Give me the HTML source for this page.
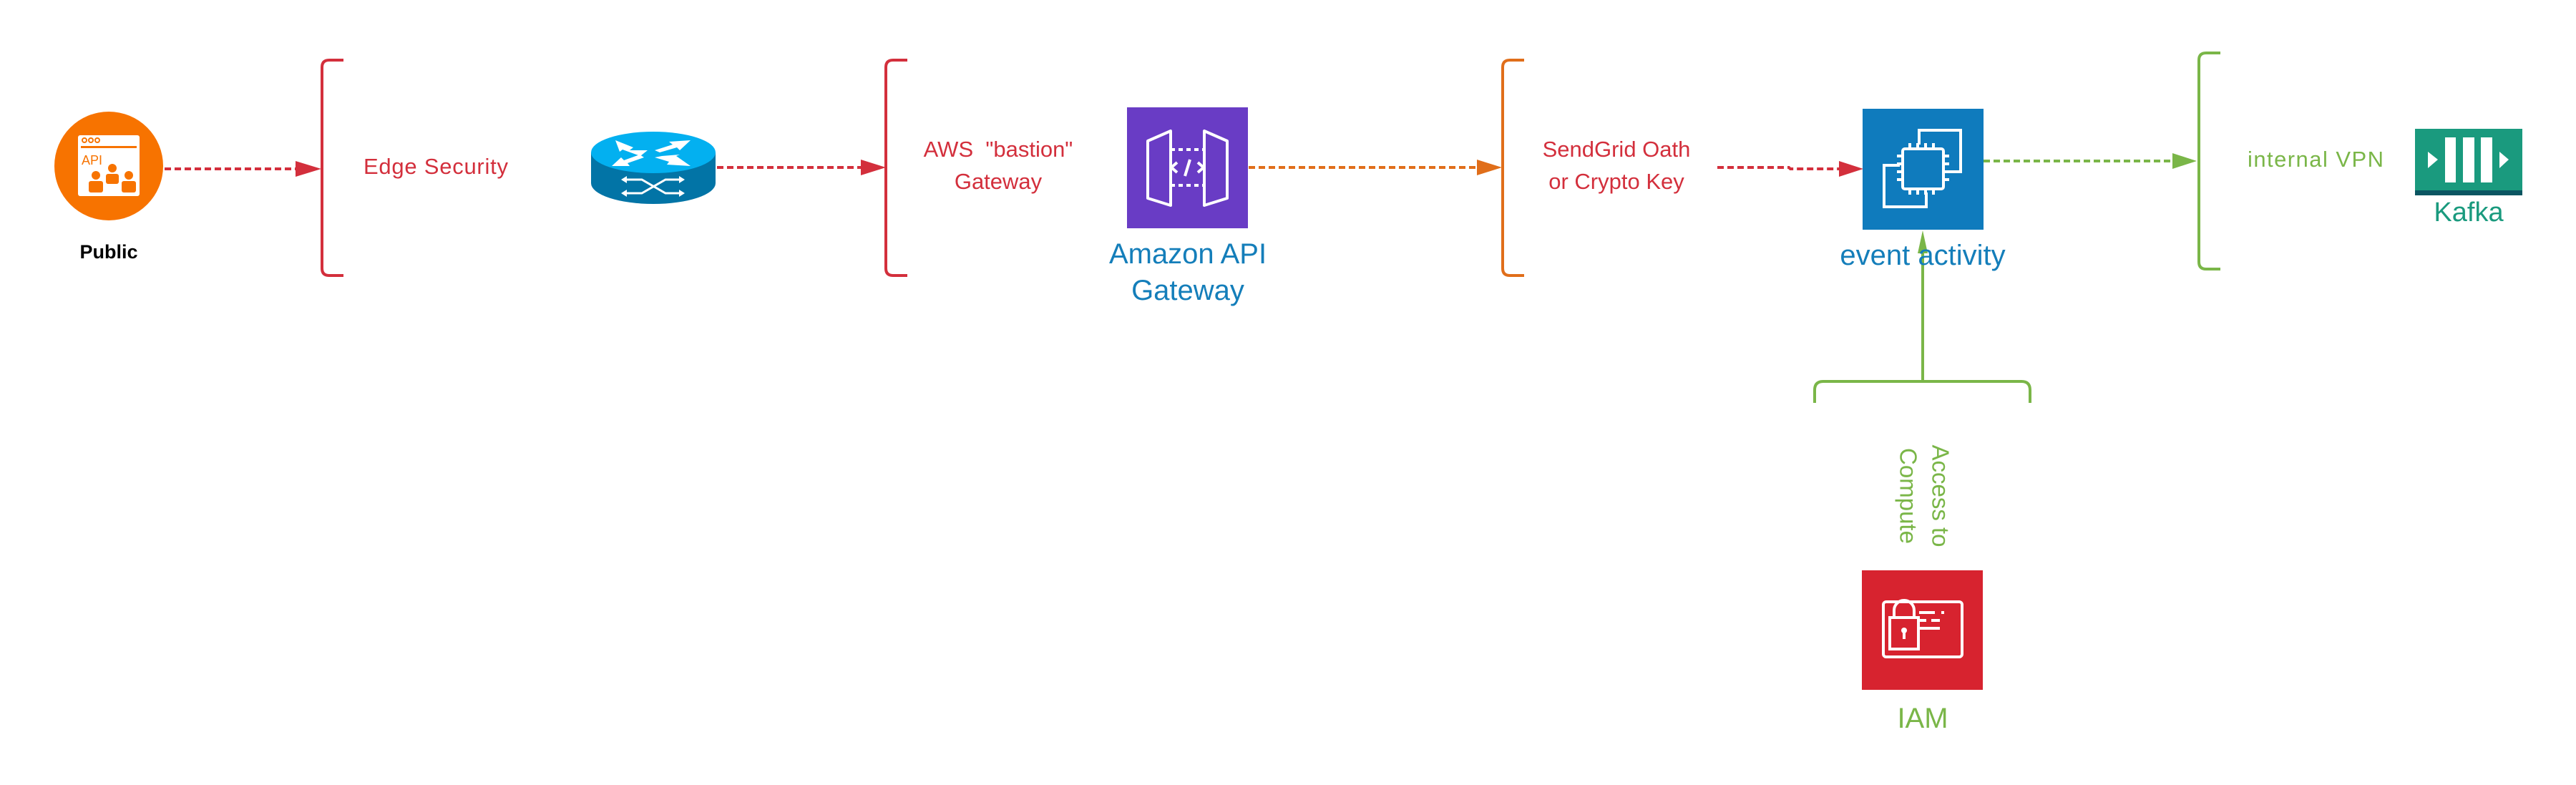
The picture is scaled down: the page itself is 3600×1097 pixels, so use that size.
<!DOCTYPE html>
<html><head><meta charset="utf-8"><style>html,body{margin:0;padding:0;background:#fff}svg{display:block}</style></head>
<body>
<svg width="3600" height="1097" viewBox="0 0 3600 1097" xmlns="http://www.w3.org/2000/svg" font-family="Liberation Sans, sans-serif">
<rect width="3600" height="1097" fill="#fff"/>
<!-- Public -->
<circle cx="152" cy="232" r="76" fill="#F77300"/>
<rect x="109" y="189" width="86" height="85" rx="3" fill="#fff"/>
<rect x="113" y="204" width="78" height="3" fill="#F77300"/>
<circle cx="118" cy="196" r="3" fill="none" stroke="#F77300" stroke-width="2"/>
<circle cx="127" cy="196" r="3" fill="none" stroke="#F77300" stroke-width="2"/>
<circle cx="136" cy="196" r="3" fill="none" stroke="#F77300" stroke-width="2"/>
<text x="114" y="230" font-size="18" fill="#F77300">API</text>
<circle cx="157" cy="235" r="6" fill="#F77300"/><rect x="148" y="243" width="18" height="14" rx="3" fill="#F77300"/>
<circle cx="134" cy="245" r="6" fill="#F77300"/><rect x="124" y="253" width="20" height="16" rx="3" fill="#F77300"/>
<circle cx="180" cy="245" r="6" fill="#F77300"/><rect x="170" y="253" width="20" height="16" rx="3" fill="#F77300"/>
<text x="152" y="361" font-size="27" font-weight="bold" text-anchor="middle" fill="#000">Public</text>
<!-- arrow 1 -->
<line x1="230" y1="236" x2="416" y2="236" stroke="#D32F3C" stroke-width="4" stroke-dasharray="9 5"/>
<polygon points="413,225 449,236 413,247" fill="#D32F3C"/>
<!-- bracket 1 -->
<path d="M480,84 H460 Q450,84 450,94 V375 Q450,385 460,385 H480" fill="none" stroke="#D32F3C" stroke-width="4"/>
<text x="508" y="243" font-size="31" fill="#D32F3C" textLength="202">Edge Security</text>
<!-- router -->
<path d="M826,213 V256 A87,29 0 0 0 1000,256 V213 Z" fill="#0274A6"/>
<ellipse cx="913" cy="213" rx="87" ry="29" fill="#03B0F0"/>
<g fill="#fff">
<polygon points="860,196 885,206 880,210 905,210 895,218 870,209 866,212"/>
<polygon points="965,196 935,198 940,202 915,210 922,213 946,206 950,210"/>
<polygon points="855,232 880,232 877,228 900,220 894,216 872,224 868,220"/>
<polygon points="965,232 945,218 950,216 925,218 915,220 935,226 932,230"/>
<path d="M870,251 H897 L930,270 H955 M870,270 H897 L930,251 H955" stroke="#fff" stroke-width="3" fill="none"/>
<polygon points="868,251 876,246 876,256"/><polygon points="957,251 949,246 949,256"/>
<polygon points="868,270 876,265 876,275"/><polygon points="957,270 949,265 949,275"/>
</g>
<!-- arrow 2 -->
<line x1="1002" y1="234" x2="1208" y2="234" stroke="#D32F3C" stroke-width="4" stroke-dasharray="9 5"/>
<polygon points="1203,223 1238,234 1203,245" fill="#D32F3C"/>
<!-- bracket 2 -->
<path d="M1268,84 H1248 Q1238,84 1238,94 V375 Q1238,385 1248,385 H1268" fill="none" stroke="#D32F3C" stroke-width="4"/>
<text x="1395" y="219" font-size="31" fill="#D32F3C" text-anchor="middle" xml:space="preserve">AWS  "bastion"</text>
<text x="1395" y="264" font-size="31" fill="#D32F3C" text-anchor="middle">Gateway</text>
<!-- API gateway -->
<g transform="translate(1575,150)">
<rect width="169" height="169" fill="#693CC5"/>
<g fill="none" stroke="#fff" stroke-width="4" stroke-linejoin="round">
<polygon points="29,47 61,33 61,137 29,127"/>
<polygon points="140,47 108,33 108,137 140,127"/>
<line x1="61" y1="59" x2="108" y2="59" stroke-dasharray="6 5"/>
<line x1="61" y1="109" x2="108" y2="109" stroke-dasharray="6 5"/>
<polyline points="70,77 62,84 70,91"/><polyline points="99,77 107,84 99,91"/>
<line x1="88" y1="73" x2="81" y2="96"/>
</g></g>
<text x="1660" y="368" font-size="40" fill="#147EBA" text-anchor="middle">Amazon API</text>
<text x="1660" y="419" font-size="40" fill="#147EBA" text-anchor="middle">Gateway</text>
<!-- orange arrow -->
<line x1="1745" y1="234" x2="2070" y2="234" stroke="#E06E1A" stroke-width="4" stroke-dasharray="9 5"/>
<polygon points="2064,223 2099,234 2064,245" fill="#E06E1A"/>
<!-- bracket 3 -->
<path d="M2130,84 H2110 Q2100,84 2100,94 V375 Q2100,385 2110,385 H2130" fill="none" stroke="#E06E1A" stroke-width="4"/>
<text x="2259" y="219" font-size="31" fill="#D32F3C" text-anchor="middle">SendGrid Oath</text>
<text x="2259" y="264" font-size="31" fill="#D32F3C" text-anchor="middle">or Crypto Key</text>
<!-- red arrow -->
<path d="M2400,234 H2500 L2502,236 H2575" fill="none" stroke="#D32F3C" stroke-width="4" stroke-dasharray="9 5"/>
<polygon points="2570,225 2604,236 2570,247" fill="#D32F3C"/>
<!-- event -->
<g transform="translate(2603,152)">
<rect width="169" height="169" fill="#0F7BBD"/>
<g fill="none" stroke="#fff" stroke-width="4">
<path d="M79,50 V30 H137 V88 H117"/>
<path d="M52,79 H30 V137 H89 V117"/>
<rect x="56" y="56" width="57" height="56" rx="3"/>
<path d="M66,56 v-8 M77,56 v-8 M88,56 v-8 M99,56 v-8 M66,112 v8 M77,112 v8 M88,112 v8 M99,112 v8 M56,66 h-8 M56,77 h-8 M56,88 h-8 M56,99 h-8 M113,66 h8 M113,77 h8 M113,88 h8 M113,99 h8"/>
</g></g>
<!-- green vertical -->
<line x1="2687" y1="350" x2="2687" y2="533" stroke="#7AB648" stroke-width="4"/>
<polygon points="2680,354 2687,322 2694,354" fill="#7AB648"/>
<text x="2687" y="370" font-size="40" fill="#147EBA" text-anchor="middle">event activity</text>
<!-- bottom bracket -->
<path d="M2536,563 V545 Q2536,533 2548,533 H2825 Q2837,533 2837,545 V563" fill="none" stroke="#7AB648" stroke-width="4"/>
<text x="2712" y="693" font-size="33" fill="#7AB648" text-anchor="middle" dominant-baseline="central" transform="rotate(90 2712 693)">Access to</text>
<text x="2667" y="693" font-size="33" fill="#7AB648" text-anchor="middle" dominant-baseline="central" transform="rotate(90 2667 693)">Compute</text>
<!-- IAM -->
<g transform="translate(2602,797)">
<rect width="169" height="167" fill="#D7232F"/>
<g fill="none" stroke="#fff" stroke-width="4">
<rect x="30" y="44" width="110" height="77" rx="4"/>
<rect x="39" y="66" width="40" height="44"/>
<path d="M45,66 V56 A14,14 0 0 1 73,56 V66"/>
<path d="M80,59 h22 M111,59 h4 M80,70 h10 M97,70 h12 M80,81 h29"/>
</g>
<circle cx="59" cy="84" r="4" fill="#fff"/><rect x="57" y="84" width="4" height="12" fill="#fff"/>
</g>
<text x="2687" y="1017" font-size="40" fill="#7AB648" text-anchor="middle">IAM</text>
<!-- green arrow -->
<line x1="2772" y1="225" x2="3040" y2="225" stroke="#7AB648" stroke-width="4" stroke-dasharray="9 5"/>
<polygon points="3036,214 3070,225 3036,236" fill="#7AB648"/>
<!-- bracket 4 -->
<path d="M3103,74 H3083 Q3073,74 3073,84 V366 Q3073,376 3083,376 H3103" fill="none" stroke="#7AB648" stroke-width="4"/>
<text x="3141" y="233" font-size="31" fill="#7AB648" textLength="190">internal VPN</text>
<!-- Kafka -->
<rect x="3375" y="180" width="150" height="93" fill="#1A9A7E"/>
<rect x="3375" y="266" width="150" height="7" fill="#0B5561"/>
<g fill="#fff">
<rect x="3417" y="192" width="15" height="63"/><rect x="3442" y="192" width="16" height="63"/><rect x="3467" y="192" width="16" height="63"/>
<polygon points="3393,212 3407,223 3393,235"/><polygon points="3493,212 3506,223 3493,235"/>
</g>
<text x="3450" y="309" font-size="38" fill="#1A9A7E" text-anchor="middle">Kafka</text>
</svg>
</body></html>
